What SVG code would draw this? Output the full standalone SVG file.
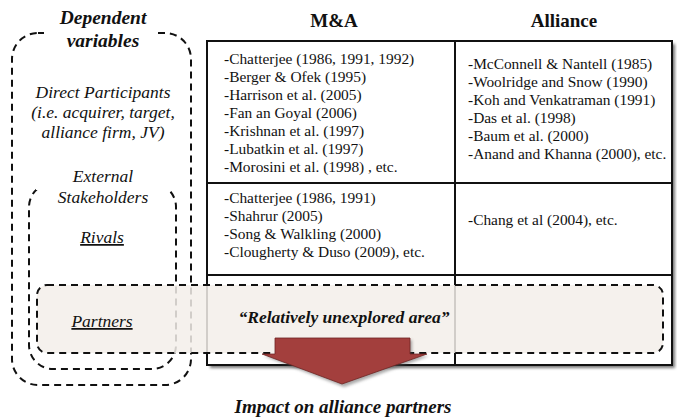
<svg xmlns="http://www.w3.org/2000/svg" width="677" height="418" viewBox="0 0 677 418" font-family="'Liberation Serif', 'Times New Roman', serif">
  <style>
    .serif { font-family: "Liberation Serif", "Times New Roman", serif; fill: #111; }
    .cell { font-size: 15.4px; }
    .head { font-size: 19px; font-weight: bold; }
    .lbl { font-size: 17.5px; font-style: italic; }
    .bi { font-weight: bold; font-style: italic; }
    .dash { fill: none; stroke: #111; stroke-width: 2; stroke-dasharray: 7 5; }
    .grid { stroke: #111; stroke-width: 2; fill: none; }
  </style>
  <defs>
    <filter id="shadow" x="-5%" y="-5%" width="115%" height="120%">
      <feGaussianBlur stdDeviation="1.5"/>
    </filter>
  </defs>

  <!-- column headers -->
  <g id="headers">
    <text class="serif head" x="334" y="27" text-anchor="middle">M&amp;A</text>
    <text class="serif head" x="564" y="27" text-anchor="middle">Alliance</text>
  </g>

  <!-- literature table -->
  <g id="table">
    <rect x="210" y="44" width="465" height="324" fill="#777" filter="url(#shadow)"/>
    <rect x="207" y="41" width="465" height="324" fill="#fff"/>
    <rect class="grid" x="207" y="41" width="465" height="324"/>
    <line class="grid" x1="455" y1="41" x2="455" y2="365"/>
    <line class="grid" x1="207" y1="183" x2="672" y2="183"/>
    <line class="grid" x1="207" y1="275" x2="672" y2="275"/>
  </g>

  <g id="cell-ma-direct" class="serif cell">
    <text x="224" y="64">-Chatterjee (1986, 1991, 1992)</text>
    <text x="224" y="82">-Berger &amp; Ofek (1995)</text>
    <text x="224" y="100">-Harrison et al. (2005)</text>
    <text x="224" y="118">-Fan an Goyal (2006)</text>
    <text x="224" y="136">-Krishnan et al. (1997)</text>
    <text x="224" y="154">-Lubatkin et al. (1997)</text>
    <text x="224" y="172">-Morosini et al. (1998) , etc.</text>
  </g>

  <g id="cell-alliance-direct" class="serif cell">
    <text x="468" y="69">-McConnell &amp; Nantell (1985)</text>
    <text x="468" y="87">-Woolridge and Snow (1990)</text>
    <text x="468" y="105">-Koh and Venkatraman (1991)</text>
    <text x="468" y="123">-Das et al. (1998)</text>
    <text x="468" y="141">-Baum et al. (2000)</text>
    <text x="468" y="159">-Anand and Khanna (2000), etc.</text>
  </g>

  <g id="cell-ma-rivals" class="serif cell">
    <text x="224" y="203">-Chatterjee (1986, 1991)</text>
    <text x="224" y="221">-Shahrur (2005)</text>
    <text x="224" y="239">-Song &amp; Walkling (2000)</text>
    <text x="224" y="257">-Clougherty &amp; Duso (2009), etc.</text>
  </g>

  <g id="cell-alliance-rivals" class="serif cell">
    <text x="468" y="225">-Chang et al (2004), etc.</text>
  </g>

  <!-- dependent variables grouping -->
  <g id="dependent-variables">
    <rect class="dash" x="12" y="33" width="179" height="352" rx="26"/>
    <rect x="44" y="27" width="112" height="22" fill="#fff"/>
    <text class="serif bi" x="103" y="24" font-size="19.5" text-anchor="middle">Dependent</text>
    <text class="serif bi" x="103" y="47" font-size="19.5" text-anchor="middle">variables</text>
    <text class="serif lbl" x="103" y="98" text-anchor="middle">Direct Participants</text>
    <text class="serif lbl" x="103" y="118" text-anchor="middle">(i.e. acquirer, target,</text>
    <text class="serif lbl" x="103" y="138" text-anchor="middle">alliance firm, JV)</text>
  </g>

  <g id="external-stakeholders">
    <rect class="dash" x="29" y="183" width="147" height="186" rx="24"/>
    <rect x="36" y="168" width="134" height="22" fill="#fff"/>
    <text class="serif lbl" x="103" y="182" text-anchor="middle">External</text>
    <text class="serif lbl" x="103" y="203" text-anchor="middle">Stakeholders</text>
    <text class="serif lbl" x="102" y="243" text-anchor="middle" text-decoration="underline">Rivals</text>
  </g>

  <!-- partners band across the table -->
  <g id="partners">
    <rect x="37" y="285" width="626" height="68" rx="10" fill="#f3efea" fill-opacity="0.85"/>
    <rect class="dash" x="37" y="285" width="626" height="68" rx="10"/>
    <text class="serif lbl" x="102" y="327" text-anchor="middle" text-decoration="underline">Partners</text>
    <text class="serif bi" x="344" y="323" font-size="17.5" text-anchor="middle">“Relatively unexplored area”</text>
  </g>

  <!-- impact arrow -->
  <g id="connectors">
    <path d="M277,340 L412,340 L412,356 L429,356 L344,387 L264,356 L277,356 Z" fill="#555" opacity="0.5" filter="url(#shadow)"/>
    <path d="M275,338 L410,338 L410,354 L427,354 L342,384 L262,354 L275,354 Z" fill="#a33f3d" stroke="#6e2523" stroke-width="0.8"/>
  </g>

  <g id="impact">
    <text class="serif bi" x="343" y="413" font-size="19" text-anchor="middle">Impact on alliance partners</text>
  </g>
</svg>
